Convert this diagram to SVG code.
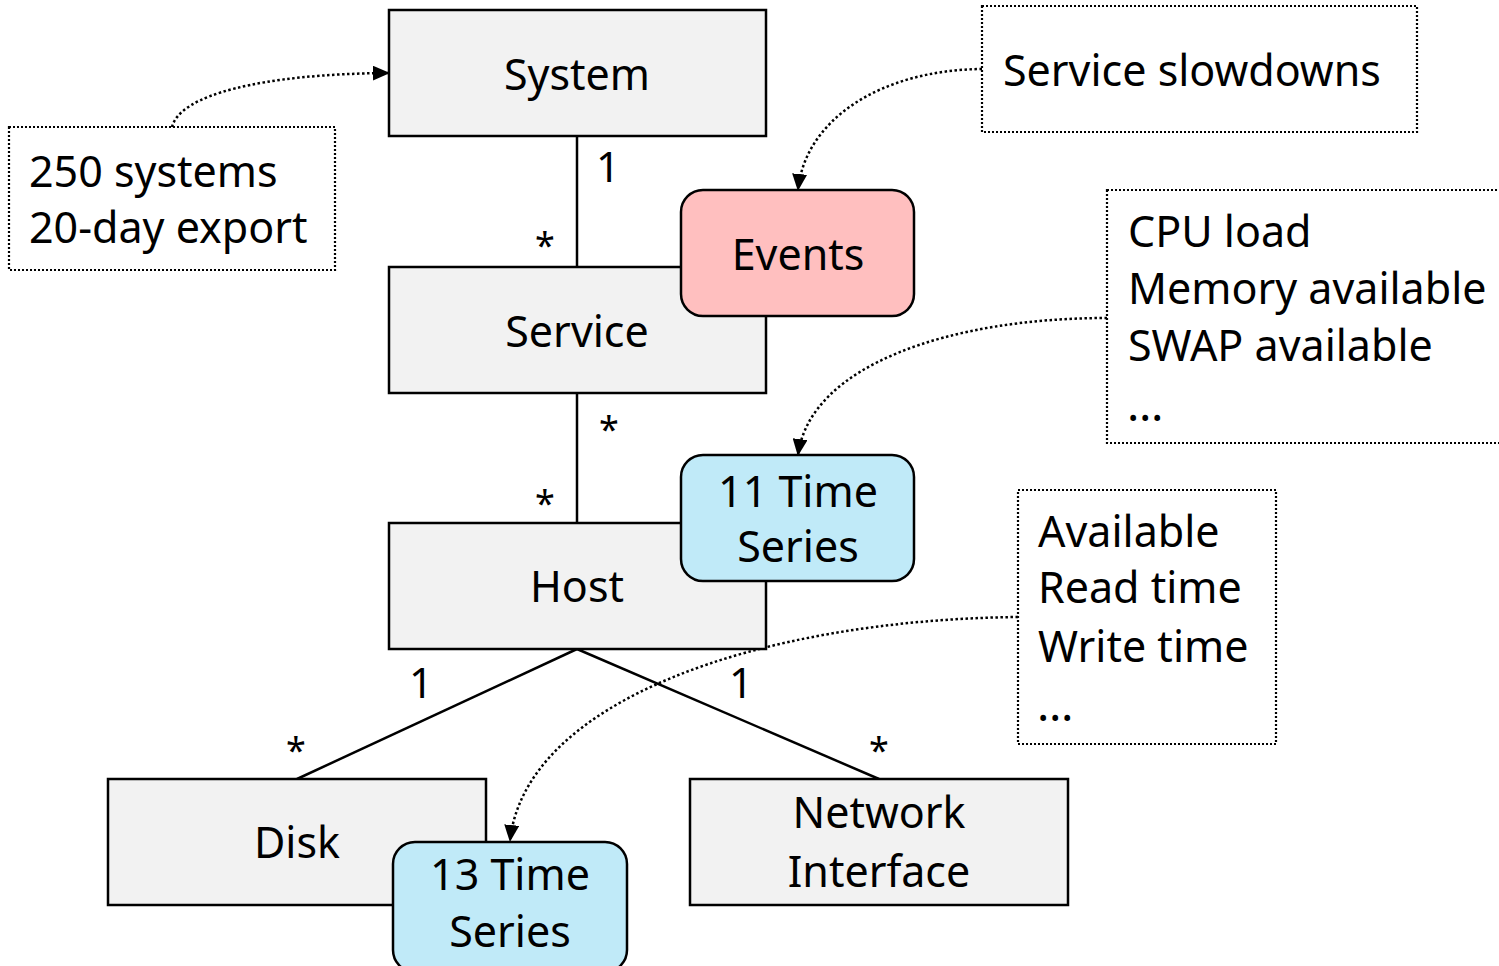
<svg xmlns="http://www.w3.org/2000/svg" width="1499" height="966" viewBox="0 0 1499 966">
<style>
text{font-family:"Noto Sans","Open Sans","DejaVu Sans",sans-serif;fill:#000}
.t{font-size:43px;text-anchor:middle}
.n{font-size:43px}
.e{font-size:46px}
.m{font-size:42px;text-anchor:middle}
.s{font-size:36px;text-anchor:middle}
.box{fill:#f2f2f2;stroke:#000;stroke-width:2.5}
.ev{fill:#ffbfbf;stroke:#000;stroke-width:2.5}
.ts{fill:#c0eaf8;stroke:#000;stroke-width:2.5}
.note{fill:none;stroke:#000;stroke-width:2.2;stroke-dasharray:2 2}
.line{fill:none;stroke:#000;stroke-width:2.5}
.dot{fill:none;stroke:#000;stroke-width:2.5;stroke-dasharray:2.5 2.5;marker-end:url(#arr)}
</style>
<defs>
<marker id="arr" markerUnits="userSpaceOnUse" markerWidth="17" markerHeight="15" viewBox="0 0 17 15" refX="16" refY="7.5" orient="auto">
<path d="M0,0 L17,7.5 L0,15 Z" fill="#000"/>
</marker>
</defs>
<g id="connectors">
<line class="line" x1="577" y1="136" x2="577" y2="267"/>
<line class="line" x1="577" y1="393" x2="577" y2="523"/>
<line class="line" x1="577" y1="649" x2="297" y2="779"/>
<line class="line" x1="577" y1="649" x2="879" y2="779"/>
<text class="m" x="608" y="182">1</text>
<text class="s" x="545" y="258">*</text>
<text class="s" x="609" y="442">*</text>
<text class="s" x="545" y="516">*</text>
<text class="m" x="421" y="698">1</text>
<text class="s" x="296" y="763">*</text>
<text class="m" x="741" y="698">1</text>
<text class="s" x="879" y="763">*</text>
<path class="dot" d="M172,127 C180,95 260,74 389,73"/>
<path class="dot" d="M982,69 C880,70 805,120 798,190"/>
<path class="dot" d="M1107,318 C950,318 810,365 798,455"/>
<path class="dot" d="M1018,617 C760,620 525,700 510,841"/>
</g>
<g id="system"><rect class="box" x="389" y="10" width="377" height="126"/><text class="t" x="577" y="90">System</text></g>
<g id="service"><rect class="box" x="389" y="267" width="377" height="126"/><text class="t" x="577" y="347">Service</text></g>
<g id="host"><rect class="box" x="389" y="523" width="377" height="126"/><text class="t" x="577" y="602">Host</text></g>
<g id="disk"><rect class="box" x="108" y="779" width="378" height="126"/><text class="t" x="297" y="858">Disk</text></g>
<g id="network"><rect class="box" x="690" y="779" width="378" height="126"/><text class="t" x="879" y="828">Network</text><text class="t" x="879" y="887">Interface</text></g>
<g id="events"><rect class="ev" x="681" y="190" width="233" height="126" rx="22"/><text class="t" x="798" y="270">Events</text></g>
<g id="ts11"><rect class="ts" x="681" y="455" width="233" height="126" rx="22"/><text class="t" x="798" y="507">11 Time</text><text class="t" x="798" y="562">Series</text></g>
<g id="ts13"><rect class="ts" x="393" y="842" width="234" height="130" rx="22"/><text class="t" x="510" y="890">13 Time</text><text class="t" x="510" y="947">Series</text></g>
<g id="note-systems"><rect class="note" x="9" y="127" width="326" height="143"/><text class="n" x="29" y="187">250 systems</text><text class="n" x="29" y="243">20-day export</text></g>
<g id="note-slowdowns"><rect class="note" x="982" y="6" width="435" height="126"/><text class="n" x="1003" y="86">Service slowdowns</text></g>
<g id="note-host"><rect class="note" x="1107" y="190" width="400" height="253"/><text class="n" x="1128" y="247">CPU load</text><text class="n" x="1128" y="304">Memory available</text><text class="n" x="1128" y="361">SWAP available</text><text class="e" x="1127" y="421">…</text></g>
<g id="note-disk"><rect class="note" x="1018" y="490" width="258" height="254"/><text class="n" x="1038" y="547">Available</text><text class="n" x="1038" y="603">Read time</text><text class="n" x="1038" y="662">Write time</text><text class="e" x="1037" y="721">…</text></g>
</svg>
